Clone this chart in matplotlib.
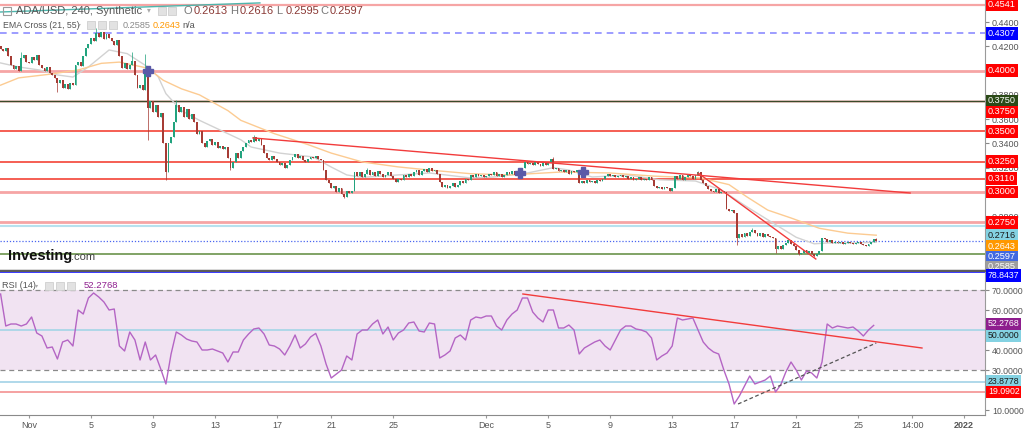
import numpy as np
import matplotlib
matplotlib.use('Agg')
import matplotlib.pyplot as plt
import matplotlib.transforms as mtransforms
from matplotlib.patches import Rectangle
from matplotlib.ticker import FormatStrFormatter

plt.rcParams['font.family'] = ['Liberation Sans', 'DejaVu Sans']

# ---- ADA/USD 4h candles (bar 0 = Nov 1 00:00), closes ----
first_bar = -11
first_open = 0.420
closes = [
    0.418, 0.416, 0.419, 0.412,
    0.405, 0.401, 0.404, 0.400,
    0.410, 0.413, 0.407,
    0.406, 0.411, 0.409, 0.413,
    0.405, 0.402, 0.400, 0.403, 0.398,
    0.396, 0.394, 0.390, 0.392, 0.386, 0.389, 0.385, 0.390,
    0.388, 0.405,
    0.407, 0.404, 0.412, 0.419,
    0.422, 0.427, 0.424, 0.431, 0.428, 0.432,
    0.426, 0.430, 0.427, 0.424, 0.421, 0.425,
    0.412, 0.402,
    0.406, 0.401, 0.405, 0.408,
    0.396, 0.386, 0.388, 0.384,
    0.398,
    0.369,
    0.375, 0.366, 0.372, 0.362, 0.365,
    0.340, 0.316, 0.340,
    0.345, 0.358, 0.372,
    0.366, 0.370, 0.362, 0.368, 0.360, 0.364, 0.358,
    0.348, 0.350, 0.340, 0.337,
    0.342, 0.344, 0.339, 0.341, 0.336, 0.338, 0.335, 0.337,
    0.328, 0.320, 0.325, 0.332,
    0.328, 0.334, 0.337, 0.340, 0.343, 0.341,
    0.345, 0.342, 0.344, 0.339,
    0.332, 0.328, 0.326, 0.330, 0.327,
    0.325, 0.322, 0.324, 0.320, 0.322, 0.326,
    0.329, 0.331, 0.328, 0.330, 0.326, 0.325, 0.327,
    0.329, 0.328, 0.330, 0.327, 0.326,
    0.318, 0.310, 0.307, 0.303, 0.305,
    0.300, 0.303, 0.298, 0.296, 0.301, 0.299, 0.301,
    0.316,
    0.313, 0.316, 0.312, 0.315, 0.318, 0.314, 0.316, 0.313, 0.317, 0.315, 0.312, 0.314, 0.316, 0.313, 0.311,
    0.308, 0.311, 0.310,
    0.314, 0.312, 0.315, 0.313, 0.316, 0.318, 0.314, 0.317, 0.319, 0.316, 0.320, 0.317, 0.318, 0.315,
    0.308, 0.304, 0.306, 0.303,
    0.305, 0.307, 0.304, 0.306, 0.309, 0.307, 0.311, 0.310,
    0.314, 0.312, 0.315, 0.313, 0.314, 0.312, 0.313, 0.315,
    0.314, 0.316, 0.313, 0.315, 0.312, 0.314, 0.316, 0.315, 0.317, 0.314, 0.315, 0.316,
    0.320, 0.325, 0.323,
    0.324, 0.322, 0.325, 0.323, 0.321, 0.324, 0.322, 0.325,
    0.327, 0.319,
    0.320, 0.317, 0.318, 0.316, 0.318, 0.315, 0.317, 0.316, 0.318,
    0.307,
    0.309, 0.307, 0.310, 0.308, 0.309, 0.307, 0.310, 0.309, 0.311,
    0.313, 0.315, 0.313, 0.314, 0.312, 0.313, 0.314, 0.312, 0.313, 0.311,
    0.312, 0.310, 0.311, 0.312, 0.310, 0.311, 0.310, 0.312, 0.310,
    0.305, 0.303, 0.304, 0.302, 0.304, 0.303, 0.301, 0.303,
    0.313,
    0.311, 0.314, 0.310, 0.312, 0.315, 0.313, 0.311, 0.314,
    0.316,
    0.310, 0.307, 0.305, 0.302, 0.301,
    0.300, 0.302, 0.299, 0.300,
    0.300, 0.286, 0.284, 0.285, 0.283,
    0.262,
    0.265, 0.263, 0.266, 0.264, 0.267, 0.269, 0.266,
    0.264, 0.266, 0.263, 0.265, 0.264, 0.263, 0.262,
    0.253,
    0.255, 0.253, 0.256, 0.258, 0.260, 0.257,
    0.255, 0.252, 0.249, 0.250, 0.252, 0.250, 0.251, 0.249,
    0.247, 0.249, 0.251,
    0.262,
    0.261, 0.259, 0.260, 0.258, 0.259,
    0.258, 0.259, 0.257, 0.258, 0.259, 0.258, 0.257, 0.258, 0.259, 0.257, 0.256, 0.255,
    0.257, 0.259, 0.2613, 0.2597,
]
# visible wick extremes
wick_highs = {-3: 0.415, 26: 0.435, 40: 0.415, 45: 0.414, 57: 0.376, 87: 0.347,
              131: 0.320, 203: 0.329, 259: 0.317, 280: 0.270, 328: 0.2616}
wick_lows = {11: 0.382, 46: 0.343, 53: 0.310, 78: 0.318, 122: 0.295, 274: 0.256,
             289: 0.250, 298: 0.248, 304: 0.246, 328: 0.2595}

# EMA Cross (21, 55)
ema21_bars = [-11, -4, 4, 11, 17, 23, 31, 38, 46, 50, 53, 59, 66, 74, 82, 86, 97, 110, 117, 123,
              129, 143, 155, 171, 180, 193, 203, 209, 218, 232, 244, 258, 268, 278, 288, 297, 304, 309, 317, 328]
ema21_vals = [0.4063, 0.403, 0.4005, 0.3964, 0.3947, 0.403, 0.417, 0.414, 0.403, 0.395,
              0.381, 0.367, 0.359, 0.351, 0.343, 0.337, 0.332, 0.3288, 0.3205, 0.314,
              0.312, 0.314, 0.3156, 0.3115, 0.3123, 0.3156, 0.320, 0.318, 0.3123, 0.3139,
              0.310, 0.3090, 0.3016, 0.2876, 0.2744, 0.2626, 0.2572, 0.2579, 0.2579, 0.2585]
ema55_bars = [-11, -4, 8, 19, 28, 35, 46, 52, 59, 66, 77, 82, 95, 108, 117, 129, 143, 155, 171, 186,
              206, 225, 242, 260, 271, 278, 286, 295, 306, 317, 328]
ema55_vals = [0.388, 0.394, 0.397, 0.4005, 0.406, 0.407, 0.402, 0.392, 0.385, 0.380,
              0.367, 0.359, 0.348, 0.339, 0.332, 0.3247, 0.3206, 0.318, 0.315, 0.314,
              0.3164, 0.3156, 0.313, 0.3115, 0.306, 0.2958, 0.285, 0.2785, 0.270, 0.266, 0.2643]
cross_bars = [46, 190, 214.5]
cross_vals = [0.400, 0.3152, 0.3164]

# RSI(14), one reading every 2 bars from bar -11
rsi_step = 2
rsi_vals = [
    68, 52, 53, 53, 52, 53, 56.5, 48.5, 47, 41,
    41.5, 35.5, 44, 45, 42, 60, 58, 66, 68.5, 66.5,
    64, 60, 60.5, 42, 39.5, 49, 45, 35, 44, 35,
    37.5, 30.5, 23, 38, 49, 47.5, 45.5, 44.5, 44, 40,
    40, 40.5, 39.5, 38.5, 34, 39, 39, 45, 48, 50.5,
    51, 48, 42.5, 42, 40.5, 37.5, 42, 47.5, 41, 43,
    46.5, 48.3, 42, 33, 26, 28, 30, 37, 35, 48,
    50, 50, 53, 55, 48, 51.5, 45, 48.5, 50, 53.5,
    54, 49.5, 49, 53.5, 53, 36, 37.5, 39.5, 46, 47.5,
    45, 55, 56.5, 56, 57, 57, 52, 50, 55, 58,
    60, 66, 66, 59, 56, 54, 60, 60, 51, 51,
    52.5, 50, 38, 41, 42.5, 44, 45, 42, 40, 45,
    50, 52, 52, 50.5, 50, 49, 46, 35, 37, 38.5,
    42, 56, 55, 55.5, 56, 50, 44, 41, 39, 38,
    30, 23, 13, 17, 22, 27, 23, 24, 25, 27,
    19, 22.5, 29, 34, 30, 25, 29.5, 28.5, 26, 34,
    53, 51, 52, 51.5, 51, 51.5, 49.5, 47, 50, 52.3,
]

# horizontal levels drawn on the price chart
levels = [0.4541, 0.4307, 0.4000, 0.3750, 0.3750, 0.3500, 0.3250, 0.3110, 0.3000, 0.2750, 0.2716, 0.2490]
level_colors = ['#f6a5a5', '#8c8cff', '#f6a5a5', '#f44336', '#3a4a2a', '#f44336', '#f44336', '#f44336',
                '#f6a5a5', '#f6a5a5', '#b6e2ef', '#5e8a3c']
level_widths = [1.6, 1.2, 2.0, 1.0, 1.0, 1.2, 1.2, 1.2, 2.0, 2.0, 1.5, 1.1]
level_styles = ['-', (0, (4, 3)), '-', '-', '-', '-', '-', '-', '-', '-', '-', '-']

# trend lines (bar, price)
trend_red = [([86.7, 341.1], [0.3445, 0.2991]), ([259, 304.6], [0.3156, 0.2447])]
trend_teal = ([-11.2, 89.4], [0.4483, 0.4558])
rsi_trend_red = ([191.2, 345.7], [68, 41])
rsi_trend_dash = ([274.5, 328], [13, 43.5])

# right axis price tags: (shown at, text, background, text colour)
price_tags = [(0.4541, '0.4541', '#ff0000', 'white'), (0.4307, '0.4307', '#0000ff', 'white'),
              (0.4000, '0.4000', '#ff0000', 'white'), (0.3750, '0.3750', '#2b4a17', 'white'),
              (0.3659, '0.3750', '#ff0000', 'white'), (0.3500, '0.3500', '#ff0000', 'white'),
              (0.3250, '0.3250', '#ff0000', 'white'), (0.3110, '0.3110', '#ff0000', 'white'),
              (0.3000, '0.3000', '#ff0000', 'white'), (0.2746, '0.2750', '#ff0000', 'white'),
              (0.2644, '0.2716', '#84d2e2', '#1a1a1a'), (0.2554, '0.2643', '#ff9800', 'white'),
              (0.2464, '0.2597', '#4169e1', 'white'), (0.2381, '0.2585', '#9e9e9e', 'white')]
price_ticks = [0.28, 0.32, 0.34, 0.36, 0.38, 0.42, 0.44]
rsi_levels = [78.8437, 50.0, 23.8778, 19.0902]
rsi_level_colors = ['#2a2aff', '#a9d6e8', '#a9d6e8', '#f59a9a']
rsi_tags = [(77.2, '78.8437', '#0000ff', 'white'), (53.0, '52.2768', '#8e1e8e', 'white'),
            (47.0, '50.0000', '#84d2e2', '#1a1a1a'), (24.5, '23.8778', '#84d2e2', '#1a1a1a'),
            (19.0, '19.0902', '#ff0000', 'white')]
rsi_ticks = [10, 30, 40, 60, 70]

tick_bars = [0, 24, 48, 72, 96, 117, 141, 177, 201, 225, 249, 273, 297, 321, 342, 362]
tick_labels = ['Nov', '5', '9', '13', '17', '21', '25', 'Dec', '5', '9', '13', '17', '21', '25', '14:00', '2022']

UP = '#22a37e'
DOWN = '#a63c35'
GREY = '#555555'


def tag(ax, y, text, bg, fg, size=6.6):
    tr = mtransforms.blended_transform_factory(ax.transAxes, ax.transData)
    ax.text(1.003, y, text, transform=tr, fontsize=size, color=fg, va='center', ha='left',
            bbox=dict(boxstyle='square,pad=0.2', fc=bg, ec='none'), clip_on=False, zorder=20)


fig = plt.figure(figsize=(10.24, 4.32), dpi=100)
fig.patch.set_facecolor('white')
W, H = 1024.0, 432.0
ax = fig.add_axes([0, 1 - 271 / H, 985 / W, 271 / H])
ax2 = fig.add_axes([0, 1 - 415 / H, 985 / W, (415 - 272) / H])

# ---- price panel ----
c = np.array(closes)
o = np.r_[first_open, c[:-1]]
x = np.arange(len(c)) + first_bar
hi = np.maximum(o, c)
lo = np.minimum(o, c)
for b, v in wick_highs.items():
    hi[b - first_bar] = v
for b, v in wick_lows.items():
    lo[b - first_bar] = v
cols = np.where(c >= o, UP, DOWN)

for lv, lc, lw, ls in zip(levels, level_colors, level_widths, level_styles):
    ax.axhline(lv, color=lc, lw=lw, ls=ls, zorder=1)
ax.axhline(closes[-1], color='#4a66f0', lw=0.9, ls=(0, (1, 1.5)), zorder=1)

ax.plot(ema21_bars, ema21_vals, color='#d2d2d2', lw=1.0, zorder=2)
ax.plot(ema55_bars, ema55_vals, color='#fccb92', lw=1.0, zorder=2)

ax.vlines(x, lo, hi, colors=cols, lw=0.7, alpha=0.75, zorder=3)
ax.bar(x, np.maximum(np.abs(c - o), 0.0004), bottom=np.minimum(o, c), width=0.72,
       color=cols, linewidth=0, zorder=4)

for tx, ty in trend_red:
    ax.plot(tx, ty, color='#f23b3b', lw=1.0, zorder=5)
ax.plot(trend_teal[0], trend_teal[1], color='#4db6ac', lw=1.0, zorder=5)
ax.plot(cross_bars, cross_vals, ls='none', marker='P', ms=7, color='#5b5aa8', zorder=6)

ax.set_xlim(-11.23, 370.1)
ax.set_ylim(0.2348, 0.4582)
ax.set_xticks([])
ax.yaxis.tick_right()
ax.set_yticks(price_ticks)
ax.yaxis.set_major_formatter(FormatStrFormatter('%.4f'))
ax.tick_params(axis='y', direction='out', length=3, labelsize=6.5, colors='#888888',
               labelcolor='#555555', pad=2)
for s in ['top', 'left']:
    ax.spines[s].set_visible(False)
ax.spines['right'].set_color('#9a9a9a')
ax.spines['bottom'].set_color('#5a5a5a')
ax.spines['bottom'].set_linewidth(2.5)
for y, t, bg, fg in price_tags:
    tag(ax, y, t, bg, fg)

# ---- RSI panel ----
ax2.axhspan(30, 70, color='#f1e3f2', lw=0, zorder=0)
ax2.axhline(70, color='#8a8a8a', lw=0.9, ls=(0, (4, 3)), zorder=1)
ax2.axhline(30, color='#8a8a8a', lw=0.9, ls=(0, (4, 3)), zorder=1)
for lv, lc in zip(rsi_levels, rsi_level_colors):
    ax2.axhline(lv, color=lc, lw=1.3, zorder=1)
rsi_x = first_bar + rsi_step * np.arange(len(rsi_vals))
ax2.plot(rsi_x, rsi_vals, color='#b465c4', lw=1.0, zorder=3)
ax2.plot(rsi_trend_red[0], rsi_trend_red[1], color='#f23b3b', lw=1.0, zorder=4)
ax2.plot(rsi_trend_dash[0], rsi_trend_dash[1], color='#555555', lw=0.9, ls=(0, (3, 2)), zorder=4)

ax2.set_xlim(-11.23, 370.1)
ax2.set_ylim(7.5, 79)
ax2.yaxis.tick_right()
ax2.set_yticks(rsi_ticks)
ax2.yaxis.set_major_formatter(FormatStrFormatter('%.4f'))
ax2.tick_params(axis='y', direction='out', length=3, labelsize=6.3, colors='#888888',
                labelcolor='#555555', pad=2)
ax2.set_xticks(tick_bars)
ax2.set_xticklabels(tick_labels)
ax2.get_xticklabels()[-1].set_fontweight('bold')
ax2.tick_params(axis='x', direction='out', length=2, labelsize=6.5, colors='#999999',
                labelcolor='#555555', pad=2)
for s in ['top', 'left']:
    ax2.spines[s].set_visible(False)
ax2.spines['right'].set_color('#9a9a9a')
ax2.spines['bottom'].set_color('#8a8a8a')
for y, t, bg, fg in rsi_tags:
    tag(ax2, y, t, bg, fg, size=6.3)

# ---- header texts ----
def ftext(px, py, s, **kw):
    fig.text(px / W, 1 - py / H, s, va='center', ha='left', **kw)


def icon(px, py, w=8, h=8):
    fig.add_artist(Rectangle((px / W, 1 - (py + h / 2) / H), w / W, h / H, transform=fig.transFigure,
                             fc='#e2e2e2', ec='#cfcfcf', lw=0.6))


fig.add_artist(Rectangle((3 / W, 1 - 15 / H), 8 / W, 8 / H, transform=fig.transFigure,
                         fill=False, ec='#9a9a9a', lw=0.8))
ftext(16, 11, 'ADA/USD, 240, Synthetic', fontsize=8.0, color=GREY)
ftext(147, 11, '\u25be', fontsize=5.5, color='#aaaaaa')
icon(158, 11)
icon(168, 11)
ohlc_x = [184, 230, 276, 320]
ohlc = [('O', '0.2613'), ('H', '0.2616'), ('L', '0.2595'), ('C', '0.2597')]
for px, (k, v) in zip(ohlc_x, ohlc):
    ftext(px, 11, k, fontsize=8.0, color='#777777')
    ftext(px + 9.5, 11, v, fontsize=8.0, color='#8b3a36')

ftext(3, 25, 'EMA Cross (21, 55)', fontsize=6.3, color=GREY)
ftext(78, 25, '\u25be', fontsize=4.0, color='#aaaaaa')
for px in [87, 98, 109]:
    icon(px, 25, 8, 8)
ftext(123, 25, '0.2585', fontsize=6.6, color='#8a8a8a')
ftext(153, 25, '0.2643', fontsize=6.6, color='#ff9800')
ftext(182, 25, 'n/a', fontsize=6.6, color=GREY)

ftext(2, 286, 'RSI (14)', fontsize=6.6, color=GREY)
ftext(35, 286, '\u25be', fontsize=4.5, color='#aaaaaa')
for px in [45, 56, 67]:
    icon(px, 286, 8, 8)
ftext(84, 286, '52.2768', fontsize=6.8, color='#8e1e8e')

ftext(8, 256, 'Investing', fontsize=10.5, fontweight='bold', color='#111111')
ftext(71, 257, '.com', fontsize=8, color='#444444')

fig.savefig('out.png', dpi=100, facecolor='white')
